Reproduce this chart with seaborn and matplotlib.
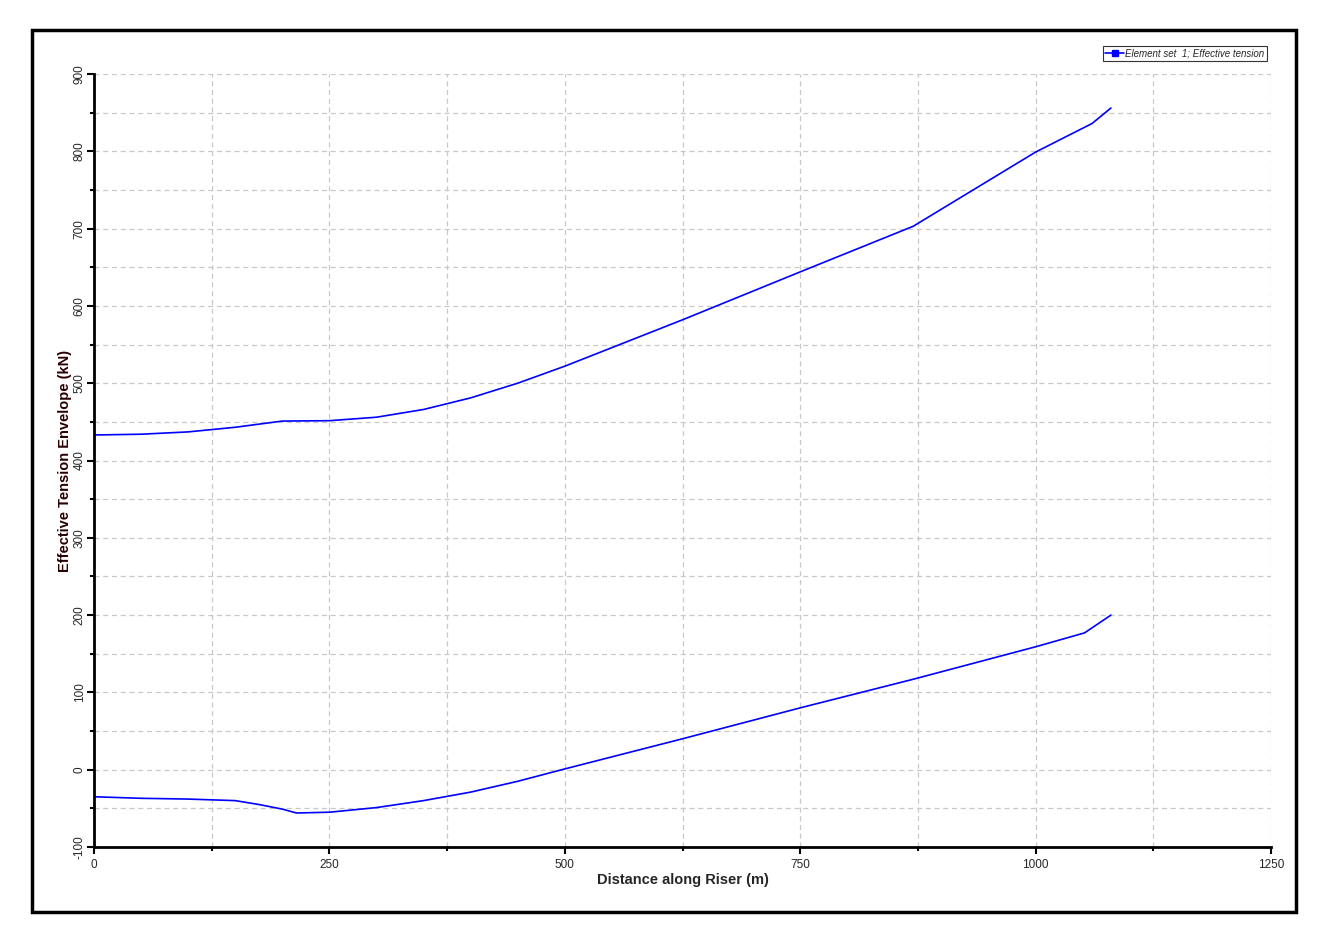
import numpy as np
import pandas as pd
import matplotlib
matplotlib.use("Agg")
import matplotlib.pyplot as plt
from matplotlib.lines import Line2D
from matplotlib.patches import Rectangle
from matplotlib.ticker import MultipleLocator
import seaborn as sns

# --- datos ---
dist_max = [0, 50, 100, 150, 200, 250, 300, 350, 400, 450, 500, 625, 750, 870, 1000, 1060, 1080]
tension_max = [433, 434, 437, 443, 451, 451.5, 456, 466, 481, 500, 522, 582, 644, 703, 799, 836, 856]

dist_min = [0, 50, 100, 150, 175, 200, 215, 250, 300, 350, 400, 450, 500, 625, 750, 870, 1000, 1052, 1080]
tension_min = [-35, -37, -38, -40, -45, -51, -56, -55, -49, -40, -29, -15, 1, 40, 80, 117, 159, 177, 200]

legend_label = "Element set  1; Effective tension"
x_label = "Distance along Riser (m)"
y_label = "Effective Tension Envelope (kN)"
x_ticks = [0, 250, 500, 750, 1000, 1250]
y_ticks = [-100, 0, 100, 200, 300, 400, 500, 600, 700, 800, 900]

df_max = pd.DataFrame({"dist": dist_max, "tension": tension_max})
df_min = pd.DataFrame({"dist": dist_min, "tension": tension_min})

sns.set_style("white")
plt.rcParams["font.family"] = ["Liberation Sans", "DejaVu Sans"]
plt.rcParams["axes.unicode_minus"] = False

fig = plt.figure(figsize=(13.26, 9.42), dpi=100)
ax = fig.add_axes([94 / 1326, 1 - 847 / 942, (1271 - 94) / 1326, (847 - 74) / 942])

sns.lineplot(data=df_max, x="dist", y="tension", color="#0000ff", lw=1.2, ax=ax)
sns.lineplot(data=df_min, x="dist", y="tension", color="#0000ff", lw=1.2, ax=ax)

ax.set_xlim(0, 1250)
ax.set_ylim(-100, 900)
ax.set_xticks(x_ticks)
ax.set_yticks(y_ticks)
ax.xaxis.set_minor_locator(MultipleLocator(125))
ax.yaxis.set_minor_locator(MultipleLocator(50))

ax.grid(True, which="both", color="#c8c8c8", linestyle=(0, (4, 3)), lw=0.9)
ax.set_axisbelow(True)

for s in ["top", "right"]:
    ax.spines[s].set_visible(False)
for s in ["left", "bottom"]:
    ax.spines[s].set_linewidth(2)
    ax.spines[s].set_color("black")

ax.tick_params(which="both", direction="out", color="black", width=1.5, labelsize=8.5, left=True, bottom=True)
ax.tick_params(which="major", length=5)
ax.tick_params(which="minor", length=3)
ax.tick_params(axis="x", which="major", pad=4)
ax.tick_params(axis="y", which="major", pad=1)
plt.setp(ax.get_yticklabels(), rotation=90, va="center")

ax.set_xlabel(x_label, fontsize=10.5, fontweight="bold", labelpad=1)
ax.set_ylabel(y_label, fontsize=10.5, fontweight="bold", color="#2a0000", labelpad=1)

handle = Line2D([0], [0], color="#0000ff", lw=1.2, marker="s", markersize=4)
leg = fig.legend([handle], [legend_label], loc="upper right",
                 bbox_to_anchor=(1267 / 1326, 1 - 46 / 942),
                 prop={"size": 7, "style": "italic"}, frameon=True, fancybox=False,
                 borderpad=0.25, handlelength=2.0, handletextpad=0.1, borderaxespad=0)
leg.get_frame().set_edgecolor("black")
leg.get_frame().set_linewidth(0.8)

# marco exterior
fig.patches.append(Rectangle((32 / 1326, 1 - 912 / 942), (1296 - 32) / 1326, (912 - 30) / 942,
                             transform=fig.transFigure, fill=False, lw=2.5, ec="black"))

fig.savefig("out.png", dpi=100)
plt.close()
